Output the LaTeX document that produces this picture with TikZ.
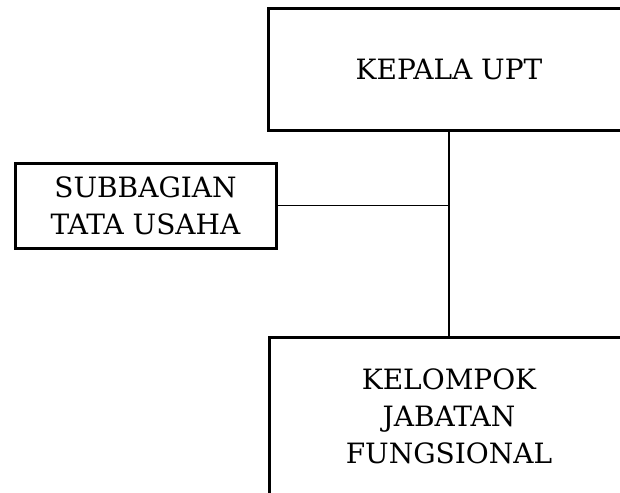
\documentclass[tikz,border=0pt]{standalone}
\usepackage{fontspec}
\setmainfont{DejaVu Serif}
\tikzset{
  box/.style={draw, line width=3pt, align=center, inner sep=0pt, font=\fontsize{28}{37}\selectfont},
  conn/.style={line width=1.5pt}
}
\begin{document}
\begin{tikzpicture}[x=1pt,y=-1pt]
\useasboundingbox (0,0) rectangle (620,492);
\clip (0,0) rectangle (620,492);
\node[box, minimum width=361pt, minimum height=121pt] (kepala) at (449,69.5) {KEPALA UPT};
\node[box, minimum width=261pt, minimum height=85pt] (sub) at (145.5,205.5) {SUBBAGIAN\\TATA USAHA};
\node[box, minimum width=360pt, minimum height=158pt] (kel) at (449,416) {KELOMPOK\\JABATAN\\FUNGSIONAL};
\draw[conn] (kepala.south) -- (kel.north);
\draw[conn] (sub.east) -- (sub.east -| kepala.south);
\end{tikzpicture}
\end{document}
